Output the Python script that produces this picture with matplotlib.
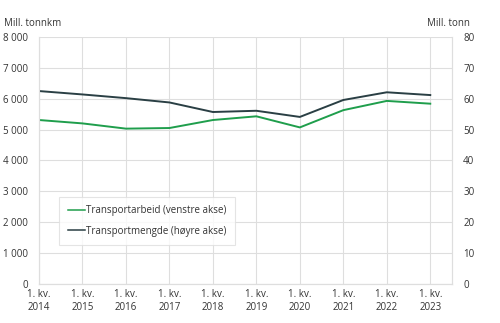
import matplotlib.pyplot as plt
import numpy as np

plt.rcParams['font.family'] = ['Open Sans', 'DejaVu Sans']

# data
years = ['2014', '2015', '2016', '2017', '2018', '2019', '2020', '2021', '2022', '2023']
transportarbeid = [5310, 5200, 5030, 5050, 5310, 5430, 5070, 5630, 5930, 5840]   # mill. tonnkm
transportmengde = [62.5, 61.4, 60.2, 58.8, 55.7, 56.1, 54.1, 59.6, 62.1, 61.2]   # mill. tonn

green = '#1f9e4c'
dark = '#2a3f44'
grid_col = '#dedede'
txt_col = '#333333'

x = np.arange(len(years))

fig = plt.figure(figsize=(5, 3.23), dpi=100)
ax = fig.add_axes([0.078, 0.122, 0.826, 0.763])
ax2 = ax.twinx()

l1, = ax.plot(x, transportarbeid, color=green, lw=1.4, label='Transportarbeid (venstre akse)')
l2, = ax2.plot(x, transportmengde, color=dark, lw=1.4, label='Transportmengde (høyre akse)')

ax.set_xlim(0, 9.5)
ax.set_ylim(0, 8000)
ax2.set_ylim(0, 80)

yt = np.arange(0, 8001, 1000)
ax.set_yticks(yt)
ax.set_yticklabels([f'{v:,}'.replace(',', ' ') for v in yt])
ax2.set_yticks(np.arange(0, 81, 10))
ax.set_xticks(x)
ax.set_xticklabels(['1. kv.\n' + y for y in years])

for a in (ax, ax2):
    a.tick_params(length=0, labelsize=7, colors=txt_col, pad=8)
    for s in a.spines.values():
        s.set_color(grid_col)
        s.set_linewidth(0.8)
    a.spines['top'].set_visible(False)
ax.tick_params(axis='x', pad=4)

ax.grid(True, color=grid_col, lw=0.8)
ax.set_axisbelow(True)
ax2.set_zorder(ax.get_zorder() + 1)

fig.text(0.008, 0.928, 'Mill. tonnkm', fontsize=7, color=txt_col, va='center')
fig.text(0.94, 0.928, 'Mill. tonn', fontsize=7, color=txt_col, va='center', ha='right')

leg = ax2.legend(handles=[l1, l2], loc='lower left', bbox_to_anchor=(0.048, 0.155),
                 fontsize=7, frameon=True, fancybox=False, handlelength=1.8,
                 handletextpad=0.1, labelspacing=0.95, borderpad=0.9, borderaxespad=0)
leg.get_frame().set_edgecolor(grid_col)
leg.get_frame().set_linewidth(0.8)
for t in leg.get_texts():
    t.set_color(txt_col)
for h in leg.get_lines():
    h.set_linewidth(1.1)

fig.savefig('out.png', dpi=100)
